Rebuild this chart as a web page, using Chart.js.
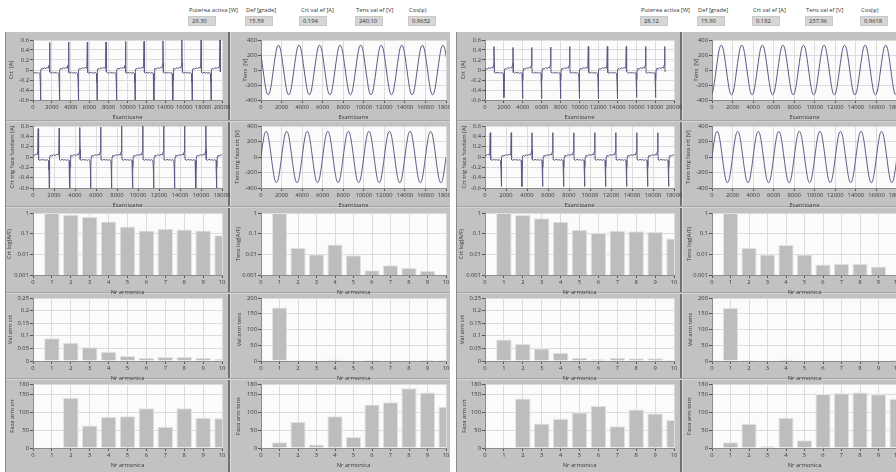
<!DOCTYPE html>
<html>
<head>
<meta charset="utf-8">
<script src="https://cdn.jsdelivr.net/npm/chart.js@4.4.1/dist/chart.umd.min.js"></script>
<style>
  html, body { margin: 0; padding: 0; background: #fff; }
  #page { position: relative; width: 896px; height: 472px; overflow: hidden; font-family: 'Open Sans', sans-serif; }
  .half { position: absolute; top: 0; height: 472px; overflow: hidden; }
  .gray { position: absolute; top: 32px; bottom: 0; background: #c2c2c2; }
  .lbl { position: absolute; font-size: 5.8px; line-height: 8px; color: #333; white-space: nowrap; }
  .box { position: absolute; height: 10px; width: 28px; background: #d6d6d6; border: 1px solid #c8c8c8; box-sizing: border-box;
         font-size: 5.8px; line-height: 8px; padding-left: 3px; color: #333; }
  .line { position: absolute; }
  canvas { position: absolute; }
</style>
</head>
<body>
<div id="page"></div>
<script>
'use strict';

/* header read-outs */
const headLabels = ['Puterea activa [W]', 'Def [grade]', 'Crt val ef [A]', 'Tens val ef [V]', 'Cos(\u03c6)'];
const headValuesA = ['29.30', '15.59', '0.194', '240.10', '0.9632'];
const headValuesB = ['28.12', '15.90', '0.182', '237.96', '0.9618'];

/* harmonic spectra (index = Nr armonica) */
const harmonics = [0, 1, 2, 3, 4, 5, 6, 7, 8, 9, 10];

const crtLogA = [null, 1, 0.82, 0.66, 0.39, 0.22, 0.144, 0.174, 0.16, 0.144, 0.083];
const tensLogA = [null, 1, 0.0205, 0.010, 0.0296, 0.0091, 0.0017, 0.0030, 0.0022, 0.0016, null];
const valCrtA = [0.002, 0.09, 0.072, 0.055, 0.037, 0.02, 0.013, 0.016, 0.016, 0.013, 0.008];
const valTensA = [1, 170, 3.5, 1.7, 5, 1.5, 0.3, 0.5, 0.4, 0.3, 0.1];
const fazaCrtA = [1, 1, 141, 63, 87, 89, 112, 60, 112, 85, 84];
const fazaTensA = [1, 16, 74, 10, 89, 31, 122, 129, 168, 156, 116];

const crtLogB = [null, 1, 0.79, 0.56, 0.38, 0.155, 0.107, 0.14, 0.13, 0.12, 0.058];
const tensLogB = [null, 1, 0.020, 0.0098, 0.028, 0.0098, 0.0032, 0.0035, 0.0035, 0.0026, null];
const valCrtB = [0.002, 0.085, 0.067, 0.05, 0.033, 0.013, 0.007, 0.013, 0.011, 0.011, 0.004];
const valTensB = [1, 168, 3.4, 1.6, 4.7, 1.6, 0.5, 0.6, 0.6, 0.4, 0.1];
const fazaCrtB = [1, 1, 139, 69, 82, 100, 118, 61, 108, 97, 79];
const fazaTensB = [1, 16, 68, 5, 85, 22, 152, 154, 156, 151, 138];

/* waveforms: one period of each trace,
   plus where each period sits on the sample axis */
// current: offsets from the negative spike; 'N' / 'P' = spike tips
const crtCycle = [[-1000, -0.05], [-880, -0.065], [-740, -0.045], [-600, -0.06], [-470, -0.05], [-330, -0.065],
  [-200, -0.05], [-70, -0.07], [-25, -0.25], [0, 'N'], [20, -0.2], [45, 0.0], [110, 0.03], [260, 0.02],
  [410, 0.045], [560, 0.03], [700, 0.05], [840, 0.04], [905, 0.1], [950, 'P'], [975, 0.15], [995, -0.04]];
// voltage: offsets from the rising zero crossing
const tensCycle = [[0, 0], [167, 165], [333, 290], [500, 330], [667, 290], [833, 165],
  [1000, 0], [1167, -165], [1333, -290], [1500, -330], [1667, -290], [1833, -165]];

const crtNegA1 = [800, 2800, 4800, 6780, 8840, 10800, 12800, 14800, 16840, 18840];
const crtNegValA1 = [-0.7, -0.7, -0.7, -0.7, -0.7, -0.7, -0.7, -0.7, -0.7, -0.7];
const crtPosValA1 = [0.55, 0.56, 0.56, 0.56, 0.57, 0.57, 0.58, 0.6, 0.62, 0.62];
const crtNegA2 = [-460, 1547, 3505, 5494, 7484, 9500, 11494, 13484, 15511, 17500];
const crtNegValA2 = [-0.7, -0.7, -0.7, -0.7, -0.7, -0.7, -0.7, -0.7, -0.7, -0.7];
const crtPosValA2 = [0.55, 0.56, 0.57, 0.58, 0.6, 0.62, 0.62, 0.62, 0.62, 0.62];
const tensZeroA1 = [-800, 1200, 3200, 5200, 7200, 9200, 11200, 13200, 15200, 17200];
const tensZeroA2 = [-2000, 0, 2000, 4000, 6000, 8000, 10000, 12000, 14000, 16000, 18000];

const crtNegB1 = [0, 2010, 3990, 6000, 8010, 9980, 11990, 14000, 16050, 18060];
const crtNegValB1 = [-0.57, -0.55, -0.57, -0.57, -0.57, -0.57, -0.58, -0.57, -0.55, -0.55];
const crtPosValB1 = [0.47, 0.45, 0.45, 0.46, 0.47, 0.47, 0.47, 0.47, 0.47, 0.47];
const crtNegB2 = [-450, 1550, 3520, 5500, 7500, 9500, 11500, 13500, 15500, 17500];
const crtNegValB2 = [-0.57, -0.57, -0.57, -0.57, -0.57, -0.57, -0.57, -0.57, -0.57, -0.57];
const crtPosValB2 = [0.47, 0.47, 0.47, 0.47, 0.47, 0.47, 0.47, 0.47, 0.47, 0.47];
const tensZeroB1 = [-1600, 400, 2400, 4400, 6400, 8400, 10400, 12400, 14400, 16400, 18400];
const tensZeroB2 = [-2000, 0, 2000, 4000, 6000, 8000, 10000, 12000, 14000, 16000, 18000];

/* axis tick values */
const crtTicks = [-0.6, -0.4, -0.2, 0, 0.2, 0.4, 0.6];
const tensTicks = [-400, -200, 0, 200, 400];
const logTicks = [0.001, 0.01, 0.1, 1];
const valCrtTicks = [0, 0.05, 0.1, 0.15, 0.2, 0.25];
const valTensTicks = [0, 50, 100, 150, 200];
const fazaTicks = [0, 50, 100, 150, 180];

function crtTrace(negTimes, negVals, posVals) {
  const pts = [];
  negTimes.forEach((t, i) => {
    crtCycle.forEach(([dt, v]) => {
      const y = v === 'N' ? negVals[i] : v === 'P' ? posVals[i] : v;
      pts.push({ x: t + dt, y: y });
    });
  });
  return pts;
}
function tensTrace(zeros) {
  const pts = [];
  zeros.forEach((t) => tensCycle.forEach(([dt, v]) => pts.push({ x: t + dt, y: v })));
  return pts;
}
function bars(values) {
  return harmonics.map((h, i) => ({ x: h, y: values[i] }));
}

Chart.defaults.font.family = "'Open Sans', sans-serif";
Chart.defaults.color = '#3a3a3a';

const plotBg = {
  id: 'plotBg',
  beforeDraw(chart) {
    const { ctx, chartArea: a } = chart;
    ctx.save();
    ctx.fillStyle = '#fbfbfb';
    ctx.fillRect(a.left, a.top, a.right - a.left, a.bottom - a.top);
    ctx.restore();
  }
};

const page = document.getElementById('page');
function div(parent, cls, x, y, w, h, color) {
  const d = document.createElement('div');
  d.className = cls;
  d.style.left = x + 'px';
  d.style.top = y + 'px';
  if (w != null) d.style.width = w + 'px';
  if (h != null) d.style.height = h + 'px';
  if (color) d.style.background = color;
  parent.appendChild(d);
  return d;
}

const rowTop = [40, 126, 213, 298, 384];
const rowBot = [100, 188, 275, 361, 448];
const PAD_L = 33, PAD_T = 6, PAD_R = 12, PAD_B = 24;

function addChart(half, L, R, T, B, spec) {
  const cv = document.createElement('canvas');
  const w = R - L + PAD_L + PAD_R, h = B - T + PAD_T + PAD_B;
  cv.width = w; cv.height = h;
  cv.style.width = w + 'px'; cv.style.height = h + 'px';
  cv.style.left = (L - PAD_L - half.x0) + 'px';
  cv.style.top = (T - PAD_T) + 'px';
  half.el.appendChild(cv);

  const tickFont = { size: 5.8 };
  const grid = { color: '#dcdcdc', tickColor: '#555', tickLength: 3, offset: false };
  const border = { display: true, color: '#8c8c8c' };

  new Chart(cv, {
    type: spec.type,
    data: { datasets: spec.datasets },
    options: {
      responsive: false,
      animation: false,
      devicePixelRatio: 1,
      layout: { padding: { top: PAD_T, right: PAD_R, left: 0, bottom: 0 } },
      plugins: { legend: { display: false }, tooltip: { enabled: false } },
      scales: {
        x: {
          type: 'linear', min: 0, max: spec.xMax, offset: false,
          grid: grid, border: border,
          ticks: { stepSize: spec.xStep, autoSkip: false, maxRotation: 0, padding: 1, font: tickFont,
                   callback: (v) => String(v) },
          title: { display: true, text: spec.xTitle, font: { size: 5.8 }, padding: { top: 0, bottom: 3 } },
          afterFit: (s) => { s.height = PAD_B; s.paddingLeft = 0; s.paddingRight = 0; }
        },
        y: {
          type: spec.yType || 'linear', min: spec.yMin, max: spec.yMax,
          grid: grid, border: border,
          afterBuildTicks: (s) => { s.ticks = spec.yTicks.map((v) => ({ value: v })); },
          ticks: { autoSkip: false, padding: 1, font: tickFont, callback: (v) => String(v) },
          title: { display: true, text: spec.yTitle, font: { size: 5.8 },
                   padding: { top: PAD_L - spec.titleX - 4, bottom: 0 } },
          afterFit: (s) => { s.width = PAD_L; s.paddingTop = 0; s.paddingBottom = 0; }
        }
      }
    },
    plugins: [plotBg]
  });
}

function lineSet(points, smooth) {
  return [{ data: points, borderColor: '#5a5a84', borderWidth: 1, pointRadius: 0,
            tension: 0, cubicInterpolationMode: smooth ? 'monotone' : 'default' }];
}
function barSet(values) {
  return [{ data: bars(values), backgroundColor: '#bdbdbd', borderColor: '#e2e2e2',
            borderWidth: { top: 1, left: 1, right: 1, bottom: 0 }, barPercentage: 0.82, categoryPercentage: 1 }];
}

const halves = [
  { x0: 0, w: 450, grayL: 5, plotL: [33, 261], plotR: [222, 446], sep: 228,
    labX: [189, 246, 301, 356, 409], boxX: [188, 245, 299, 355, 408], head: headValuesA,
    titleX: [[21, 15], [20, 23], [23, 22], [22, 21], [20, 22]],
    crt1: crtTrace(crtNegA1, crtNegValA1, crtPosValA1), crt2: crtTrace(crtNegA2, crtNegValA2, crtPosValA2),
    tens1: tensTrace(tensZeroA1), tens2: tensTrace(tensZeroA2),
    crtLog: crtLogA, tensLog: tensLogA, valCrt: valCrtA, valTens: valTensA, fazaCrt: fazaCrtA, fazaTens: fazaTensA },
  { x0: 450, w: 446, grayL: 456, plotL: [485, 712], plotR: [674, 897], sep: 680,
    labX: [641, 698, 753, 806, 861], boxX: [640, 697, 752, 805, 860], head: headValuesB,
    titleX: [[21, 15], [20, 23], [23, 22], [22, 21], [20, 22]],
    crt1: crtTrace(crtNegB1, crtNegValB1, crtPosValB1), crt2: crtTrace(crtNegB2, crtNegValB2, crtPosValB2),
    tens1: tensTrace(tensZeroB1), tens2: tensTrace(tensZeroB2),
    crtLog: crtLogB, tensLog: tensLogB, valCrt: valCrtB, valTens: valTensB, fazaCrt: fazaCrtB, fazaTens: fazaTensB }
];

halves.forEach((hf) => {
  hf.el = div(page, 'half', hf.x0, 0, hf.w, 472);
  div(hf.el, 'gray', hf.grayL - hf.x0, 32, hf.x0 + hf.w - hf.grayL, null);
  // header read-outs
  headLabels.forEach((t, i) => {
    const l = div(hf.el, 'lbl', hf.labX[i] - hf.x0, 6);
    l.textContent = t;
    const b = div(hf.el, 'box', hf.boxX[i] - hf.x0, 16);
    b.textContent = hf.head[i];
  });
  // panel separators
  div(hf.el, 'line', hf.sep - hf.x0, 32, 2, 440, '#707070');
  div(hf.el, 'line', hf.sep + 2 - hf.x0, 32, 1, 440, '#dadada');
  [120, 206, 292, 378].forEach((y) => {
    div(hf.el, 'line', hf.grayL - hf.x0, y, hf.w, 1, '#a6a6a6');
    div(hf.el, 'line', hf.grayL - hf.x0, y + 1, hf.w, 1, '#d4d4d4');
  });
  div(hf.el, 'line', hf.grayL - hf.x0, 32, 1, 440, '#8a8a8a');

  const specs = [
    [{ type: 'line', datasets: lineSet(hf.crt1), xMax: 20000, xStep: 2000, xTitle: 'Esantioane',
       yMin: -0.6, yMax: 0.6, yTicks: crtTicks, yTitle: 'Crt  [A]' },
     { type: 'line', datasets: lineSet(hf.tens1, true), xMax: 18000, xStep: 2000, xTitle: 'Esantioane',
       yMin: -400, yMax: 400, yTicks: tensTicks, yTitle: 'Tens  [V]' }],
    [{ type: 'line', datasets: lineSet(hf.crt2), xMax: 18000, xStep: 2000, xTitle: 'Esantioane',
       yMin: -0.6, yMax: 0.6, yTicks: crtTicks, yTitle: 'Crt trig faza fundam [A]' },
     { type: 'line', datasets: lineSet(hf.tens2, true), xMax: 18000, xStep: 2000, xTitle: 'Esantioane',
       yMin: -400, yMax: 400, yTicks: tensTicks, yTitle: 'Tens trig faza crt [V]' }],
    [{ type: 'bar', datasets: barSet(hf.crtLog), xMax: 10, xStep: 1, xTitle: 'Nr armonica',
       yType: 'logarithmic', yMin: 0.001, yMax: 1, yTicks: logTicks, yTitle: 'Crt log(A/F)' },
     { type: 'bar', datasets: barSet(hf.tensLog), xMax: 10, xStep: 1, xTitle: 'Nr armonica',
       yType: 'logarithmic', yMin: 0.001, yMax: 1, yTicks: logTicks, yTitle: 'Tens log(A/F)' }],
    [{ type: 'bar', datasets: barSet(hf.valCrt), xMax: 10, xStep: 1, xTitle: 'Nr armonica',
       yMin: 0, yMax: 0.25, yTicks: valCrtTicks, yTitle: 'Val arm crt' },
     { type: 'bar', datasets: barSet(hf.valTens), xMax: 10, xStep: 1, xTitle: 'Nr armonica',
       yMin: 0, yMax: 200, yTicks: valTensTicks, yTitle: 'Val arm tens' }],
    [{ type: 'bar', datasets: barSet(hf.fazaCrt), xMax: 10, xStep: 1, xTitle: 'Nr armonica',
       yMin: 0, yMax: 180, yTicks: fazaTicks, yTitle: 'Faza arm crt' },
     { type: 'bar', datasets: barSet(hf.fazaTens), xMax: 10, xStep: 1, xTitle: 'Nr armonica',
       yMin: 0, yMax: 180, yTicks: fazaTicks, yTitle: 'Faza arm tens' }]
  ];
  specs.forEach((row, r) => {
    row.forEach((spec, c) => {
      spec.titleX = hf.titleX[r][c];
      addChart(hf, hf.plotL[c], hf.plotR[c], rowTop[r], rowBot[r], spec);
    });
  });
});
</script>
</body>
</html>
